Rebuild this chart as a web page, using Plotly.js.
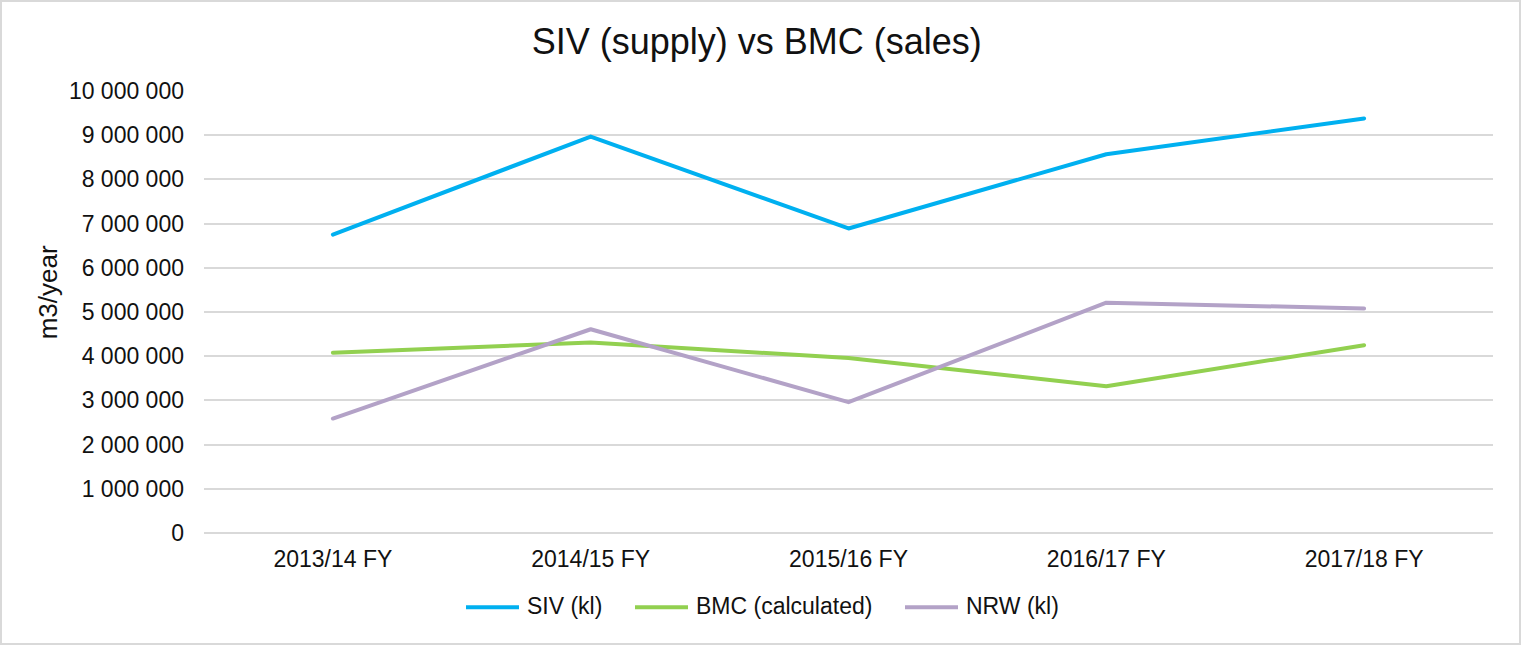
<!DOCTYPE html>
<html>
<head>
<meta charset="utf-8">
<script src="https://cdn.plot.ly/plotly-3.0.1.min.js"></script>
<style>
  html, body { margin: 0; padding: 0; background: #ffffff; }
  #wrap { position: relative; width: 1523px; height: 645px; }
  #chart { position: absolute; left: 0; top: 0; width: 1523px; height: 645px; }
  #frame { position: absolute; left: 0; top: 0; width: 1521px; height: 645px; box-sizing: border-box;
           border: 2px solid #d9d9d9; pointer-events: none; }
  #chart .scatterlayer path.js-line { stroke-linecap: round; stroke-linejoin: round; }
</style>
</head>
<body>
<div id="wrap">
  <div id="chart"></div>
  <div id="frame"></div>
</div>
<script>
const categories = ["2013/14 FY", "2014/15 FY", "2015/16 FY", "2016/17 FY", "2017/18 FY"];
const sivValues = [6750000, 8970000, 6890000, 8570000, 9380000];
const bmcValues = [4080000, 4310000, 3960000, 3320000, 4250000];
const nrwValues = [2590000, 4610000, 2960000, 5210000, 5080000];
const seriesNames = ["SIV (kl)", "BMC (calculated)", "NRW (kl)"];
const yTickValues = [0, 1000000, 2000000, 3000000, 4000000, 5000000, 6000000, 7000000, 8000000, 9000000, 10000000];

const FONT = "Liberation Sans, Arial, Helvetica, sans-serif";
const TEXT = "#111111";
const colors = ["#00B0F0", "#92D050", "#B3A2C7"];
const seriesValues = [sivValues, bmcValues, nrwValues];

const traces = seriesValues.map((vals, i) => ({
  type: "scatter",
  mode: "lines",
  x: categories,
  y: vals,
  name: seriesNames[i],
  showlegend: false,
  line: { color: colors[i], width: 4, shape: "linear" },
  hoverinfo: "x+y+name"
}));

const W = 1523, H = 645;
const L = 204, R = 30, T = 90.7, B = 112.3;
const plotW = W - L - R, plotH = H - T - B;
const px2x = px => (px - L) / plotW;
const px2y = py => (T + plotH - py) / plotH;

// Legend layout (pixel positions of each entry's key line start)
const legendKeyStart = [466, 635, 905];
const legendKeyLen = 53;
const legendTextGap = 6;
const legendY = 607;

const shapes = [];
const annotations = [];
seriesNames.forEach((name, i) => {
  const x0 = legendKeyStart[i];
  shapes.push({
    type: "line", xref: "paper", yref: "paper",
    x0: px2x(x0), x1: px2x(x0 + legendKeyLen),
    y0: px2y(legendY), y1: px2y(legendY),
    line: { color: colors[i], width: 4 }
  });
  annotations.push({
    text: name, xref: "paper", yref: "paper",
    x: px2x(x0 + legendKeyLen + legendTextGap), y: px2y(legendY - 1),
    xanchor: "left", yanchor: "middle", showarrow: false,
    font: { family: FONT, size: 23, color: TEXT }
  });
});

annotations.push({
  text: "m3/year",
  xref: "paper", yref: "paper",
  x: px2x(47.5), y: px2y(292.5),
  xanchor: "center", yanchor: "middle",
  textangle: -90, showarrow: false,
  font: { family: FONT, size: 26, color: TEXT }
});

const layout = {
  width: W,
  height: H,
  margin: { l: L, r: R, t: T, b: B, pad: 0 },
  paper_bgcolor: "#ffffff",
  plot_bgcolor: "#ffffff",
  separators: ". ",
  font: { family: FONT, size: 23, color: TEXT },
  title: {
    text: "SIV (supply) vs BMC (sales)",
    font: { family: FONT, size: 36, color: TEXT },
    x: 756.7 / W,
    xanchor: "center",
    xref: "container",
    y: 1 - 41 / H,
    yanchor: "middle",
    yref: "container"
  },
  xaxis: {
    type: "category",
    range: [-0.5, 4.5],
    showgrid: false,
    showline: false,
    zeroline: false,
    ticks: "",
    ticklabelstandoff: 10,
    tickfont: { family: FONT, size: 23, color: TEXT },
    fixedrange: true
  },
  yaxis: {
    range: [0, 10000000],
    tickvals: yTickValues,
    tickformat: ",d",
    showgrid: true,
    gridcolor: "#d9d9d9",
    gridwidth: 1.5,
    zeroline: true,
    zerolinecolor: "#d9d9d9",
    zerolinewidth: 1.5,
    showline: false,
    ticks: "",
    ticklabelstandoff: 19,
    tickfont: { family: FONT, size: 23, color: TEXT },
    fixedrange: true
  },
  showlegend: false,
  shapes: shapes,
  annotations: annotations
};

Plotly.newPlot("chart", traces, layout, { displayModeBar: false, responsive: false });
</script>
</body>
</html>
